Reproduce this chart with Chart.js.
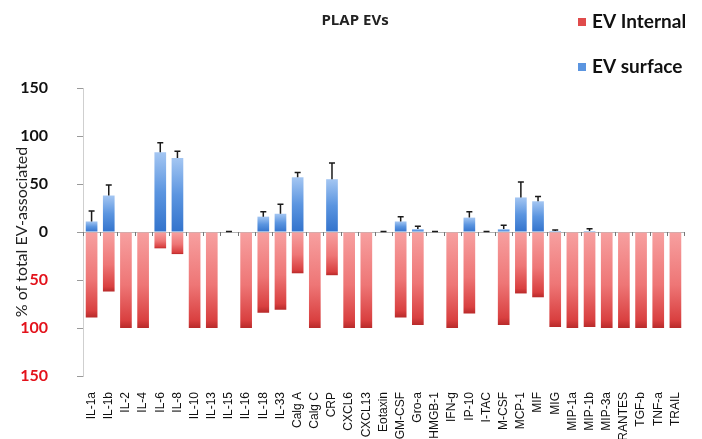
<!DOCTYPE html>
<html>
<head>
<meta charset="utf-8">
<script src="https://cdn.jsdelivr.net/npm/chart.js@4.4.1/dist/chart.umd.min.js"></script>
<style>
	html, body { margin: 0; padding: 0; background: #fff; }
	#wrap { position: relative; width: 702px; height: 439px; }
</style>
</head>
<body>
<div id="wrap"><canvas id="chart" width="702" height="439"></canvas></div>
<script>
// categories
const labels = ['IL-1a','IL-1b','IL-2','IL-4','IL-6','IL-8','IL-10','IL-13','IL-15','IL-16','IL-18','IL-33',
	'Calg A','Calg C','CRP','CXCL6','CXCL13','Eotaxin','GM-CSF','Gro-a','HMGB-1','IFN-g','IP-10','I-TAC',
	'M-CSF','MCP-1','MIF','MIG','MIP-1a','MIP-1b','MIP-3a','RANTES','TGF-b','TNF-a','TRAIL'];

// % internal (drawn downwards)
const internal = [89,62,100,100,17,23,100,100,0,100,84,81,43,100,45,100,100,0,89,97,0,100,85,0,97,64,68,99,100,99,100,100,100,100,100];
// % surface (drawn upwards)
const surface = [11,38,0,0,83,77,0,0,0,0,16,19,57,0,55,0,0,0,11,3,0,0,15,0,3,36,32,1,0,1,0,0,0,0,0];
// error bar of surface values
const surfaceErr = [11,11,0,0,10,7,0,0,0.5,0,5,10,5,0,17,0,0,0.5,5,3,0.5,0,6,0.5,4,16,5,1,0,2.5,0,0,0,0,0];

const yTicks = [-150,-100,-50,0,50,100,150];

function barGradient(ctx, stops, flat)
{
	let chart = ctx.chart;
	let y = chart.scales.y;
	if(!y || ctx.raw===undefined) return flat;
	let y0 = y.getPixelForValue(0);
	let y1 = y.getPixelForValue(ctx.raw);
	if(!isFinite(y0) || !isFinite(y1) || Math.abs(y1-y0)<1) return flat;
	let g = chart.ctx.createLinearGradient(0, y0, 0, y1);
	for(const [p, c] of stops) g.addColorStop(p, c);
	return g;
}

const errorBars = {
	id: 'errorBars',
	afterDatasetsDraw(chart) {
		let meta = chart.getDatasetMeta(1);
		let y = chart.scales.y;
		let ctx = chart.ctx;
		ctx.save();
		ctx.strokeStyle = '#1a1a1a';
		ctx.lineWidth = 1.5;
		meta.data.forEach((bar, i) => {
			let e = surfaceErr[i];
			if(!e) return;
			let top = y.getPixelForValue(surface[i]+e);
			ctx.beginPath();
			ctx.moveTo(bar.x, bar.y);
			ctx.lineTo(bar.x, top);
			ctx.moveTo(bar.x-3, top);
			ctx.lineTo(bar.x+3, top);
			ctx.stroke();
		});
		ctx.restore();
	}
};

// small category marks on the zero line
const zeroTicks = {
	id: 'zeroTicks',
	afterDatasetsDraw(chart) {
		let x = chart.scales.x;
		let y0 = chart.scales.y.getPixelForValue(0);
		let ctx = chart.ctx;
		ctx.save();
		ctx.strokeStyle = '#777';
		ctx.lineWidth = 1;
		for(let i=0; i<=labels.length; i++)
		{
			let px = Math.round(x.getPixelForValue(i-0.5))+0.5;
			ctx.beginPath();
			ctx.moveTo(px, y0);
			ctx.lineTo(px, y0+4);
			ctx.stroke();
		}
		ctx.restore();
	}
};

// title and the legend in the top right corner
const header = {
	id: 'header',
	afterDraw(chart) {
		let ctx = chart.ctx;
		ctx.save();
		ctx.textBaseline = 'alphabetic';
		ctx.fillStyle = '#222';
		ctx.font = 'bold 15px "Open Sans"';
		ctx.textAlign = 'center';
		ctx.fillText('PLAP EVs', 355, 25);

		ctx.textAlign = 'left';
		ctx.font = 'bold 19px Lato';
		let items = [
			{text: chart.data.datasets[0].label, color: '#e04b4b', y: 28},
			{text: chart.data.datasets[1].label, color: '#5b95e0', y: 73},
		];
		for(const it of items)
		{
			ctx.fillStyle = it.color;
			ctx.fillRect(578, it.y-10, 8, 8);
			ctx.fillStyle = '#111';
			ctx.fillText(it.text, 592, it.y);
		}
		ctx.restore();
	}
};

new Chart(document.getElementById('chart'), {
	type: 'bar',
	data: {
		labels: labels,
		datasets: [
			{
				label: 'EV Internal',
				data: internal.map(v => -v),
				backgroundColor: ctx => barGradient(ctx, [[0,'#f7a0a0'],[0.55,'#ee7676'],[0.92,'#d94040'],[1,'#b82a2a']], '#ee7676'),
				stack: 's',
			},
			{
				label: 'EV surface',
				data: surface,
				backgroundColor: ctx => barGradient(ctx, [[0,'#3373cc'],[0.5,'#5b95e0'],[1,'#a4c6f2']], '#5b95e0'),
				stack: 's',
			},
		],
	},
	options: {
		responsive: false,
		animation: false,
		layout: {padding: {left: 8, right: 18, top: 88, bottom: 0}},
		datasets: {bar: {categoryPercentage: 1, barPercentage: 0.68}},
		plugins: {
			legend: {display: false},
			tooltip: {enabled: false},
			title: {display: false},
		},
		scales: {
			x: {
				stacked: true,
				afterFit: axis => { axis.height = 63; },
				grid: {display: false},
				border: {display: false},
				ticks: {
					autoSkip: false,
					minRotation: 90,
					maxRotation: 90,
					padding: 8,
					color: '#111',
					font: {family: 'Liberation Sans', size: 12},
				},
			},
			y: {
				stacked: true,
				min: -150,
				max: 150,
				afterBuildTicks: axis => { axis.ticks = yTicks.map(v => ({value: v})); },
				afterFit: axis => { axis.width = 75; },
				grid: {
					color: ctx => ctx.tick && ctx.tick.value===0 ? '#b5b5b5' : 'rgba(0,0,0,0)',
					tickColor: '#9a9a9a',
					tickLength: 6,
				},
				border: {display: true, color: '#cfcfcf'},
				ticks: {
					padding: 29,
					callback: v => Math.abs(v),
					color: ctx => ctx.tick.value<0 ? '#e3121b' : '#111',
					font: {family: 'Lato', size: 16, weight: 'bold'},
				},
				title: {
					display: true,
					text: '% of total EV-associated',
					color: '#222',
					font: {family: 'Lato', size: 16},
					padding: 4,
				},
			},
		},
	},
	plugins: [errorBars, zeroTicks, header],
});
</script>
</body>
</html>
